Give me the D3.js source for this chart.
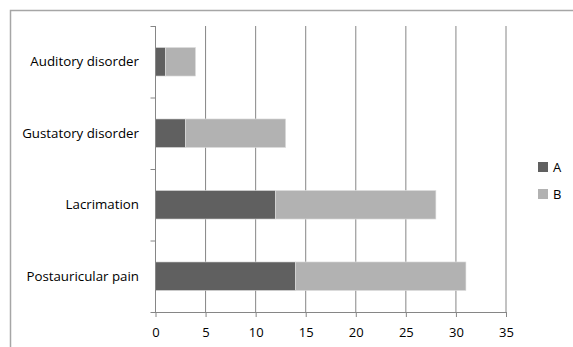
<!DOCTYPE html>
<html>
<head>
<meta charset="utf-8">
<script src="https://cdn.jsdelivr.net/npm/d3@7"></script>
<style>
  html, body { margin: 0; padding: 0; background: #fff; }
  svg { display: block; }
</style>
</head>
<body>
<svg id="chart" width="573" height="347"></svg>
<script>
// Symptom categories, top to bottom
const categories = ["Auditory disorder", "Gustatory disorder", "Lacrimation", "Postauricular pain"];
// Stacked series values
const seriesNames = ["A", "B"];
const valuesA = [1, 3, 12, 14];
const valuesB = [3, 10, 16, 17];
const xTicks = [0, 5, 10, 15, 20, 25, 30, 35];
const colors = ["#606060", "#b2b2b2"];

const svg = d3.select("#chart");
const W = 573, H = 347;
const margin = { left: 155.5, right: W - 506, top: 26, bottom: H - 312 };
const font = "'Open Sans', sans-serif";

// Outer chart frame (runs past the right and bottom edges)
svg.append("rect")
  .attr("x", 10.5).attr("y", 10.5)
  .attr("width", W + 10).attr("height", H + 10)
  .attr("fill", "#fff")
  .attr("stroke", "#a6a6a6")
  .attr("stroke-width", 1.5);

const x = d3.scaleLinear().domain([0, 35]).range([margin.left, W - margin.right]);
const y = d3.scaleBand().domain(categories).range([margin.top, H - margin.bottom]).paddingInner(0.6).paddingOuter(0.3);
const yEdges = d3.scaleLinear().domain([0, categories.length]).range([margin.top, H - margin.bottom]);

const rows = categories.map((c, i) => ({ category: c, A: valuesA[i], B: valuesB[i] }));
const stacked = d3.stack().keys(seriesNames)(rows);

// Vertical gridlines
svg.append("g")
  .selectAll("line")
  .data(xTicks.slice(1))
  .join("line")
  .attr("x1", d => x(d)).attr("x2", d => x(d))
  .attr("y1", margin.top).attr("y2", H - margin.bottom)
  .attr("stroke", "#868686").attr("stroke-width", 1);

// Bars
svg.append("g")
  .selectAll("g")
  .data(stacked)
  .join("g")
  .attr("fill", (d, i) => colors[i])
  .selectAll("rect")
  .data(d => d)
  .join("rect")
  .attr("x", d => x(d[0]))
  .attr("width", d => x(d[1]) - x(d[0]))
  .attr("y", d => y(d.data.category))
  .attr("height", y.bandwidth())
  .attr("stroke", "#e0e0e0")
  .attr("stroke-width", 0.6);

// X axis
const xAxis = svg.append("g")
  .attr("transform", `translate(0,${H - margin.bottom})`)
  .call(d3.axisBottom(x).tickValues(xTicks).tickSize(5).tickSizeOuter(0));
xAxis.select(".domain").attr("stroke", "#868686").attr("d", `M${margin.left - 5},0.5H${x(35)}`);
xAxis.selectAll(".tick line").attr("stroke", "#868686");
xAxis.selectAll("text")
  .attr("y", 25)
  .attr("dy", null)
  .attr("font-family", font)
  .attr("font-size", 13)
  .attr("fill", "#000");

// Y axis line with tick marks at category boundaries
const yAxis = svg.append("g");
yAxis.append("line")
  .attr("x1", margin.left).attr("x2", margin.left)
  .attr("y1", margin.top).attr("y2", H - margin.bottom)
  .attr("stroke", "#868686");
yAxis.selectAll("line.tk")
  .data(d3.range(categories.length))
  .join("line")
  .attr("class", "tk")
  .attr("x1", margin.left - 5).attr("x2", margin.left)
  .attr("y1", d => yEdges(d) + 0.5).attr("y2", d => yEdges(d) + 0.5)
  .attr("stroke", "#868686");
yAxis.selectAll("text")
  .data(categories)
  .join("text")
  .attr("x", 139)
  .attr("y", d => y(d) + y.bandwidth() / 2)
  .attr("dy", "0.35em")
  .attr("text-anchor", "end")
  .attr("font-family", font)
  .attr("font-size", 13.3)
  .attr("fill", "#000")
  .text(d => d);

// Legend
const legend = svg.append("g").attr("transform", "translate(538,162)");
const li = legend.selectAll("g")
  .data(seriesNames)
  .join("g")
  .attr("transform", (d, i) => `translate(0,${i * 27})`);
li.append("rect")
  .attr("width", 10).attr("height", 10)
  .attr("fill", (d, i) => colors[i]);
li.append("text")
  .attr("x", 15).attr("y", 5)
  .attr("dy", "0.35em")
  .attr("font-family", font)
  .attr("font-size", 13)
  .attr("fill", "#000")
  .text(d => d);
</script>
</body>
</html>
